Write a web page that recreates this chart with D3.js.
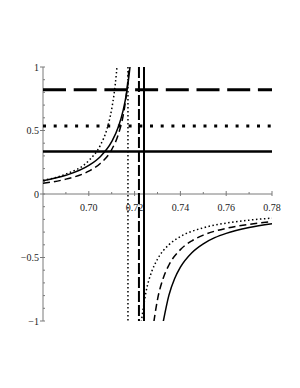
<!DOCTYPE html>
<html><head><meta charset="utf-8">
<script src="https://cdn.jsdelivr.net/npm/d3@7/dist/d3.min.js"></script>
<style>body{margin:0;background:#fff}</style>
</head><body>
<svg id="chart" width="300" height="388"></svg>
<script>
// ---- data ----
const xTicks = [0.70, 0.72, 0.74, 0.76, 0.78];
const xMinorTicks = [0.69, 0.71, 0.73, 0.75, 0.77];
const yTicks = [-1, -0.5, 0, 0.5, 1];
const yTickLabels = ["\u22121", "\u22120.5", "0", "0.5", "1"];
const yMinorTicks = [-0.9,-0.8,-0.7,-0.6,-0.4,-0.3,-0.2,-0.1,0.1,0.2,0.3,0.4,0.6,0.7,0.8,0.9];

// horizontal levels: solid, dotted, dashed
const levelSolid = 0.335;
const levelDotted = 0.535;
const levelDashed = 0.82;
// vertical asymptotes
const asymSolid = 0.7241;
const asymDashed = 0.7219;
const asymDotted = 0.7171;

const solidUpper = [[0.68,0.105],[0.69,0.147],[0.70,0.225],[0.705,0.294],[0.71,0.412],[0.713,0.533],[0.715,0.659],[0.716,0.745],[0.717,0.856],[0.7175,0.924],[0.718,1.003],[0.7182,1.038]];
const solidLower = [[0.7324,-1.015],[0.735,-0.796],[0.7375,-0.666],[0.74,-0.576],[0.745,-0.462],[0.75,-0.392],[0.755,-0.344],[0.76,-0.310],[0.77,-0.264],[0.78,-0.234]];
const dashedUpper = [[0.68,0.084],[0.69,0.117],[0.70,0.180],[0.705,0.240],[0.71,0.350],[0.713,0.475],[0.715,0.618],[0.716,0.726],[0.7165,0.796],[0.717,0.879],[0.7175,0.981],[0.718,1.11]];
const dashedLower = [[0.7284,-1.007],[0.73,-0.831],[0.7325,-0.663],[0.735,-0.559],[0.74,-0.438],[0.745,-0.369],[0.75,-0.324],[0.76,-0.270],[0.77,-0.239],[0.78,-0.218]];
const dottedUpper = [[0.68,0.108],[0.69,0.157],[0.70,0.263],[0.705,0.382],[0.708,0.516],[0.71,0.669],[0.711,0.783],[0.7115,0.855],[0.712,0.941],[0.7125,1.046]];
const dottedLower = [[0.7229,-1.009],[0.725,-0.769],[0.7275,-0.610],[0.73,-0.513],[0.735,-0.399],[0.74,-0.335],[0.75,-0.266],[0.76,-0.229],[0.77,-0.206],[0.78,-0.190]];

// ---- drawing ----
const svg = d3.select("#chart");
const x = d3.scaleLinear().domain([0.68, 0.78]).range([43, 272]);
const y = d3.scaleLinear().domain([-1, 1]).range([321, 67]);

svg.append("defs").append("clipPath").attr("id","clip")
  .append("rect").attr("x", x(0.68)).attr("y", y(1)).attr("width", x(0.78)-x(0.68)).attr("height", y(-1)-y(1));

const font = "'Liberation Serif', 'DejaVu Serif', serif";
const axisColor = "#7a7a7a";

// x axis at y=0
const gx = svg.append("g");
gx.append("line").attr("x1", x(0.68)).attr("x2", x(0.78)).attr("y1", y(0)).attr("y2", y(0))
  .attr("stroke", axisColor).attr("stroke-width", 1);
gx.selectAll(".xt").data(xTicks).join("line")
  .attr("x1", d => x(d)).attr("x2", d => x(d)).attr("y1", y(0)-3).attr("y2", y(0)+2)
  .attr("stroke", axisColor).attr("stroke-width", 1);
gx.selectAll(".xm").data(xMinorTicks).join("line")
  .attr("x1", d => x(d)).attr("x2", d => x(d)).attr("y1", y(0)-2).attr("y2", y(0))
  .attr("stroke", axisColor).attr("stroke-width", 1);
gx.selectAll("text").data(xTicks).join("text")
  .attr("x", d => x(d)).attr("y", y(0)+17).attr("text-anchor","middle")
  .attr("font-family", font).attr("font-size", 10).attr("fill","#222")
  .text(d => d.toFixed(2));

// y axis
const gy = svg.append("g");
gy.append("line").attr("x1", x(0.68)).attr("x2", x(0.68)).attr("y1", y(1)).attr("y2", y(-1))
  .attr("stroke", axisColor).attr("stroke-width", 1);
gy.selectAll(".yt").data(yTicks).join("line")
  .attr("x1", x(0.68)-3).attr("x2", x(0.68)+2).attr("y1", d => y(d)).attr("y2", d => y(d))
  .attr("stroke", axisColor).attr("stroke-width", 1);
gy.selectAll(".ym").data(yMinorTicks).join("line")
  .attr("x1", x(0.68)).attr("x2", x(0.68)+2).attr("y1", d => y(d)).attr("y2", d => y(d))
  .attr("stroke", axisColor).attr("stroke-width", 1);
gy.selectAll("text").data(yTicks).join("text")
  .attr("x", x(0.68)-4).attr("y", d => y(d)+3.5).attr("text-anchor","end")
  .attr("font-family", font).attr("font-size", 10).attr("fill","#222")
  .text((d,i) => yTickLabels[i]);

const plot = svg.append("g").attr("clip-path","url(#clip)");

// horizontal levels
function hline(v, w, dash) {
  plot.append("line").attr("x1", x(0.68)).attr("x2", x(0.78)).attr("y1", y(v)).attr("y2", y(v))
    .attr("stroke","#000").attr("stroke-width", w).attr("stroke-dasharray", dash);
}
hline(levelDashed, 3, "23,7.7");
hline(levelDotted, 3, "3,7.7");
hline(levelSolid, 2.5, null);

// vertical asymptotes
function vline(v, w, dash) {
  svg.append("line").attr("x1", x(v)).attr("x2", x(v)).attr("y1", y(1)).attr("y2", y(-1))
    .attr("stroke","#000").attr("stroke-width", w).attr("stroke-dasharray", dash);
}
vline(asymDotted, 1.5, "1.5,2.5");
vline(asymDashed, 2, "11,3");
vline(asymSolid, 2, null);

// curves
const line = d3.line().x(d => x(d[0])).y(d => y(d[1])).curve(d3.curveMonotoneX);
function curve(data, dash) {
  plot.append("path").datum(data).attr("d", line).attr("fill","none")
    .attr("stroke","#000").attr("stroke-width", 1.5).attr("stroke-dasharray", dash);
}
curve(solidUpper, null); curve(solidLower, null);
curve(dashedUpper, "7,4"); curve(dashedLower, "7,4");
curve(dottedUpper, "1.5,2.5"); curve(dottedLower, "1.5,2.5");
</script>
</body></html>
